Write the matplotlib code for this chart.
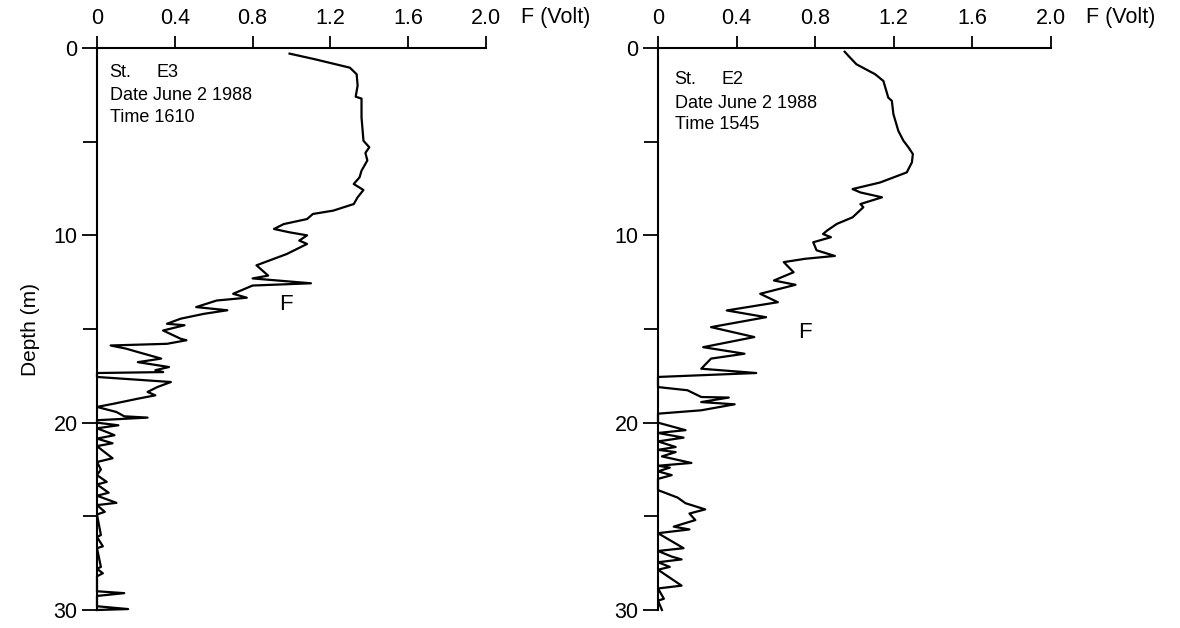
import matplotlib
matplotlib.use('Agg')
import matplotlib.pyplot as plt
from matplotlib.ticker import MultipleLocator

plt.rcParams['font.family'] = ['Liberation Sans', 'DejaVu Sans']

# St. E3, June 2 1988, 1610
e3_depth = [0.3, 0.6, 1.05, 1.4, 2.0, 2.6, 2.7, 3.7, 4.95, 5.3, 5.6, 6.0, 6.55, 6.9, 7.26,
            7.58, 7.97, 8.33, 8.68, 8.86, 9.13, 9.4, 9.66, 9.84, 10.0, 10.28, 10.46, 11.0,
            11.6, 12.15, 12.3, 12.56, 12.68, 13.12, 13.33, 13.48, 13.83, 14.0, 14.19, 14.45,
            14.72, 14.8, 15.08, 15.52, 15.6, 15.79, 15.88, 16.05, 16.23, 16.58, 16.77, 17.03,
            17.2, 17.3, 17.35, 17.56, 17.83, 18.1, 18.36, 18.54, 18.72, 18.98, 19.16, 19.43,
            19.66, 19.73, 19.87, 20.0, 20.14, 20.3, 20.5, 20.67, 20.85, 21.1, 21.25, 21.5,
            21.9, 22.1, 22.5, 22.8, 23.16, 23.3, 23.74, 23.9, 24.28, 24.4, 24.76, 24.9, 26.0,
            26.1, 26.6, 26.7, 27.7, 27.8, 28.04, 28.2, 29.0, 29.1, 29.25, 29.8, 29.95, 30.0]
e3_f = [0.99, 1.12, 1.30, 1.335, 1.34, 1.33, 1.36, 1.36, 1.37, 1.40, 1.38, 1.39, 1.36, 1.35, 1.32,
        1.37, 1.34, 1.32, 1.215, 1.11, 1.08, 0.96, 0.91, 0.99, 1.08, 1.04, 1.08, 0.975,
        0.82, 0.88, 0.80, 1.10, 0.80, 0.70, 0.77, 0.615, 0.51, 0.67, 0.55, 0.43,
        0.36, 0.45, 0.34, 0.43, 0.46, 0.36, 0.07, 0.15, 0.21, 0.33, 0.21, 0.37,
        0.30, 0.34, 0.0, 0.0, 0.38, 0.31, 0.26, 0.30, 0.21, 0.09, 0.0, 0.10,
        0.14, 0.26, 0.0, 0.0, 0.11, 0.0, 0.05, 0.09, 0.0, 0.08, 0.0, 0.03,
        0.08, 0.0, 0.02, 0.0, 0.05, 0.0, 0.06, 0.0, 0.10, 0.0, 0.04, 0.0, 0.02,
        0.0, 0.03, 0.0, 0.02, 0.0, 0.03, 0.0, 0.0, 0.14, 0.0, 0.0, 0.16, 0.0]

# St. E2, June 2 1988, 1545
e2_depth = [0.2, 0.43, 0.87, 1.4, 1.76, 2.65, 2.82, 3.53, 4.42, 4.95, 5.31, 5.66, 6.11, 6.64,
            7.18, 7.53, 7.71, 7.97, 8.33, 8.5, 9.04, 9.39, 9.75, 9.93, 10.1, 10.37, 10.8,
            11.1, 11.25, 11.43, 11.97, 12.41, 12.64, 13.12, 13.57, 14.01, 14.37, 14.9, 15.43,
            15.97, 16.32, 16.58, 17.12, 17.35, 17.56, 18.1, 18.27, 18.63, 18.66, 18.9, 19.02,
            19.34, 19.52, 20.0, 20.4, 20.55, 20.8, 21.0, 21.3, 21.45, 21.57, 21.8, 22.15,
            22.3, 22.4, 22.6, 22.8, 23.0, 23.6, 24.0, 24.3, 24.63, 24.85, 25.2, 25.55, 25.7,
            25.9, 26.7, 26.85, 27.15, 27.3, 27.45, 27.7, 27.85, 28.7, 28.85, 29.4, 29.5, 30.0]
e2_f = [0.95, 0.97, 1.01, 1.105, 1.147, 1.172, 1.19, 1.198, 1.223, 1.249, 1.275, 1.297, 1.292, 1.266,
        1.13, 0.99, 1.03, 1.14, 1.03, 1.045, 0.99, 0.91, 0.86, 0.84, 0.88, 0.79, 0.807,
        0.90, 0.75, 0.64, 0.69, 0.59, 0.70, 0.52, 0.61, 0.35, 0.55, 0.27, 0.49,
        0.23, 0.44, 0.27, 0.22, 0.50, 0.0, 0.0, 0.15, 0.22, 0.36, 0.22, 0.39,
        0.22, 0.0, 0.0, 0.14, 0.0, 0.13, 0.0, 0.09, 0.0, 0.09, 0.02, 0.17,
        0.0, 0.06, 0.0, 0.07, 0.0, 0.0, 0.10, 0.14, 0.24, 0.16, 0.19, 0.08, 0.16,
        0.0, 0.13, 0.0, 0.07, 0.12, 0.0, 0.06, 0.0, 0.12, 0.0, 0.03, 0.0, 0.02]

x_ticks = [0, 0.4, 0.8, 1.2, 1.6, 2.0]
x_labels = ['0', '0.4', '0.8', '1.2', '1.6', '2.0']
y_ticks = [0, 10, 20, 30]


def profile(ax, depth, f, station, date, time, pos) :
    ax.plot(f, depth, color='black', lw=1.6, clip_on=False)

    ax.set_xlim(0, 2.0)
    ax.set_ylim(30, 0)
    for s in ['right', 'bottom']:
        ax.spines[s].set_visible(False)
    ax.spines['top'].set_linewidth(1.5)
    ax.spines['left'].set_linewidth(1.5)

    ax.xaxis.tick_top()
    ax.set_xticks(x_ticks)
    ax.set_xticklabels(x_labels)
    ax.set_yticks(y_ticks)
    ax.yaxis.set_minor_locator(MultipleLocator(5))
    ax.tick_params(axis='x', which='major', direction='out', length=9, width=1.3, pad=5, labelsize=15.5)
    ax.tick_params(axis='y', which='major', direction='out', length=11, width=1.3, pad=3, labelsize=15.5)
    ax.tick_params(axis='y', which='minor', direction='out', length=10, width=1.3)

    # station block
    ax.text(pos[0], pos[1], 'St.', fontsize=13, va='center')
    ax.text(pos[0] + 0.24, pos[1], station, fontsize=13, va='center')
    ax.text(pos[0], pos[1] + 1.25, 'Date ' + date, fontsize=13, va='center')
    ax.text(pos[0], pos[1] + 2.4, 'Time ' + time, fontsize=13, va='center')

    # axis name sits in line with the top tick labels
    ax.text(1.09, 1.055, 'F (Volt)', transform=ax.transAxes, fontsize=15.5,
            va='center', ha='left')


fig = plt.figure(figsize=(11.8, 6.28), dpi=100)
ax1 = fig.add_axes([97/1180, 1-610/628, 389/1180, 562/628])
ax2 = fig.add_axes([658/1180, 1-610/628, 393/1180, 562/628])

profile(ax1, e3_depth, e3_f, 'E3', 'June 2 1988', '1610', (0.065, 1.3))
profile(ax2, e2_depth, e2_f, 'E2', 'June 2 1988', '1545', (0.085, 1.7))

ax1.text(0.97, 13.7, 'F', fontsize=16, ha='center', va='center')
ax2.text(0.75, 15.2, 'F', fontsize=16, ha='center', va='center')

ax1.set_ylabel('Depth (m)', fontsize=15, labelpad=10)

fig.savefig('out.png', dpi=100)
